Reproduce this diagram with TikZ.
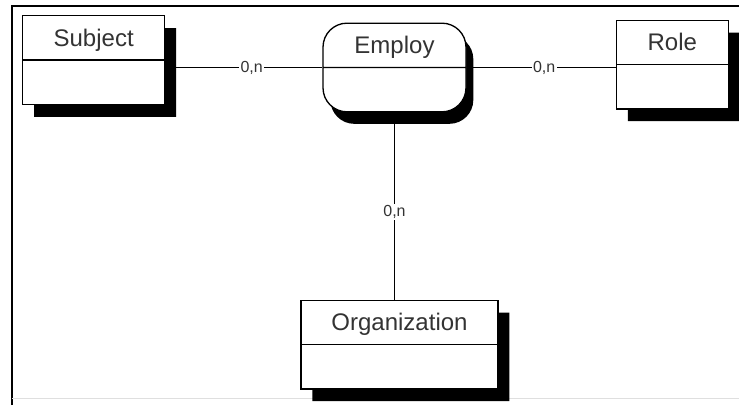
\documentclass[tikz,border=0pt]{standalone}
\usepackage{fontspec}
\setmainfont{Liberation Sans}
\usetikzlibrary{positioning, shapes.multipart, shadows}
\tikzset{%
  compartment/.style={
    rectangle split,
    rectangle split parts=2,
    draw,
    line width=1pt,
    fill=white,
    text=black!80,
    font=\fontsize{18}{20}\selectfont,
    inner xsep=0pt,
    inner ysep=0pt,
    text height=22.5pt,
    text depth=9.75pt,
    rectangle split empty part height=22.5pt,
    rectangle split empty part depth=9.75pt,
    align=center
  },
  entity/.style={
    compartment,
    drop shadow={shadow xshift=8.6pt, shadow yshift=-9.3pt, fill=black, opacity=1}
  },
  relation/.style={
    compartment,
    rounded corners=18pt,
    drop shadow={shadow xshift=5.5pt, shadow yshift=-9pt, fill=black, opacity=1}
  },
  link/.style={
    line width=0.8pt
  },
  card/.style={
    font=\fontsize{12}{13}\selectfont,
    fill=white,
    inner sep=1pt,
    text=black!80
  }
}

\begin{document}
\begin{tikzpicture}[x=0.75pt, y=-0.75pt]
	\useasboundingbox (0,0) rectangle (739,405);
	% frame
	\draw[line width=1pt] (12,405) -- (12,6) -- (739,6);
	\draw[gray!25, line width=0.6pt] (12,398) -- (739,398);
	% relationship
	\node[relation, text width=107.25pt] (employ) at (394.5,67.5) {Employ};
	% entities
	\node[entity, text width=106.5pt, yshift=5.6pt, left=117.75pt of employ] (subject) {Subject};
	\node[entity, text width=84pt, yshift=2.25pt, right=111.75pt of employ] (role) {Role};
	\node[entity, text width=147.75pt, xshift=3.75pt, below=140.25pt of employ] (organization) {Organization};
	% connections
	\draw[link] (subject.east |- employ.text split) -- node[card, pos=0.55] {0,n} (employ.text split west);
	\draw[link] (employ.text split east) -- node[card, pos=0.52] {0,n} (employ.text split -| role.west);
	\draw[link] (employ.south) -- node[card, pos=0.53] {0,n} (employ.south |- organization.north);
\end{tikzpicture}
\end{document}
